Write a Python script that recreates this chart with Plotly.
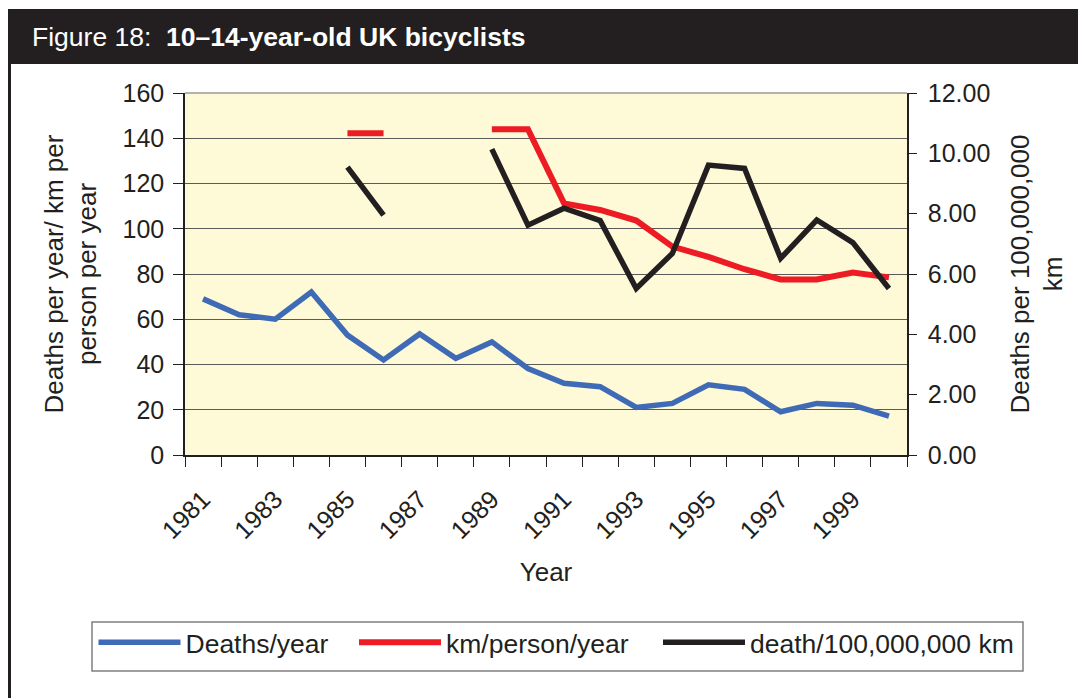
import plotly.graph_objects as go

years = list(range(1981, 2001))
deaths_per_year = [69, 62, 60, 72, 53, 42, 53.5, 42.7, 50, 38.2,
                   31.7, 30.2, 21, 22.8, 31, 29, 19.1, 22.8, 22, 17.2]
km_person_year = [None, None, None, None, 142.2, 142.2, None, None, 144, 144,
                  111.2, 108.3, 103.6, 92.1, 87.6, 82.1, 77.6, 77.6, 80.6, 78.5]
death_per_100m_km = [None, None, None, None, 9.54, 7.95, None, None, 10.14, 7.62,
                     8.18, 7.77, 5.52, 6.68, 9.61, 9.50, 6.52, 7.79, 7.04, 5.52]
label_years = [1981, 1983, 1985, 1987, 1989, 1991, 1993, 1995, 1997, 1999]
series_names = ["Deaths/year", "km/person/year", "death/100,000,000 km"]

W, H = 1086, 698
L, T = 177, 85
PW, PH = 722, 362
R, B = W - L - PW, H - T - PH


def px(x):
    return (x - L) / PW


def py(y):
    return (T + PH - y) / PH


FONT = "Liberation Sans, Arial, Helvetica, sans-serif"
BLUE = "#3F6AB5"
RED = "#ED1C24"
BLACK = "#231F20"


def legend_at(x_fig):
    return dict(orientation="h", x=px(x_fig), y=py(634.5), xanchor="left", yanchor="middle",
                borderwidth=0, font=dict(size=26.5, color=BLACK), itemwidth=82,
                bgcolor="rgba(0,0,0,0)")


fig = go.Figure()
fig.add_trace(go.Scatter(x=years, y=deaths_per_year, name=series_names[0], mode="lines",
                         line=dict(color=BLUE, width=5.5), legend="legend"))
fig.add_trace(go.Scatter(x=years, y=km_person_year, name=series_names[1], mode="lines",
                         line=dict(color=RED, width=6), connectgaps=False, legend="legend2"))
fig.add_trace(go.Scatter(x=years, y=death_per_100m_km, name=series_names[2], mode="lines",
                         line=dict(color=BLACK, width=5.5), connectgaps=False, yaxis="y2",
                         legend="legend3"))

fig.update_layout(
    width=W, height=H,
    margin=dict(l=L, r=R, t=T, b=B, pad=0),
    paper_bgcolor="white",
    plot_bgcolor="#FEF9D7",
    font=dict(family=FONT, size=25, color=BLACK),
    showlegend=True,
    legend=legend_at(85.5),
    legend2=legend_at(346),
    legend3=legend_at(650),
    xaxis=dict(range=[1980.5, 2000.5], tickmode="array", tickvals=label_years,
               ticktext=[str(y) for y in label_years], tickangle=-45,
               ticks="outside", ticklen=10, tickcolor="rgba(0,0,0,0)", ticklabelstandoff=8,
               showline=True, linecolor=BLACK, linewidth=1.5, showgrid=False, zeroline=False,
               minor=dict(tickmode="array", tickvals=[y + 0.5 for y in range(1980, 2001)],
                          ticks="outside", ticklen=10, tickcolor=BLACK, tickwidth=1, showgrid=False),
               title=dict(text="Year", font=dict(size=26), standoff=20)),
    yaxis=dict(range=[0, 160], tickvals=list(range(0, 161, 20)), ticks="outside", ticklen=10,
               tickcolor=BLACK, showline=True, linecolor=BLACK, linewidth=1.5, ticklabelstandoff=4,
               showgrid=True, gridcolor="#5A5A5A", gridwidth=1, zeroline=False,
               title=dict(text="Deaths per year/ km per<br>person per year", font=dict(size=26),
                          standoff=18)),
    yaxis2=dict(range=[0, 12], tickvals=list(range(0, 13, 2)), tickformat=".2f",
                overlaying="y", side="right", ticks="outside", ticklen=8, tickcolor=BLACK,
                showline=True, linecolor=BLACK, linewidth=1.5, showgrid=False, zeroline=False,
                ticklabelstandoff=6,
                title=dict(text="Deaths per 100,000,000<br>km", font=dict(size=26), standoff=21)),
    shapes=[
        dict(type="rect", xref="paper", yref="paper", x0=px(0), x1=px(W + 2), y0=py(56), y1=py(1),
             fillcolor=BLACK, line=dict(width=0), layer="above"),
        dict(type="line", xref="paper", yref="paper", x0=px(1.5), x1=px(1.5), y0=py(56), y1=py(H + 2),
             line=dict(color=BLACK, width=3)),
        dict(type="line", xref="paper", yref="paper", x0=0, x1=1, y0=1, y1=1,
             line=dict(color="#9A9A9A", width=1.5)),
        dict(type="rect", xref="paper", yref="paper", x0=px(84), x1=px(1015), y0=py(663), y1=py(614),
             line=dict(color="#808080", width=1.5), fillcolor="rgba(0,0,0,0)"),
    ],
    annotations=[
        dict(text="Figure 18:  <b>10–14-year-old UK bicyclists</b>", xref="paper", yref="paper",
             x=px(22), y=py(29), xanchor="left", yanchor="middle", showarrow=False,
             font=dict(size=26.5, color="white", family=FONT)),
    ],
)

fig.write_html("out.html")
